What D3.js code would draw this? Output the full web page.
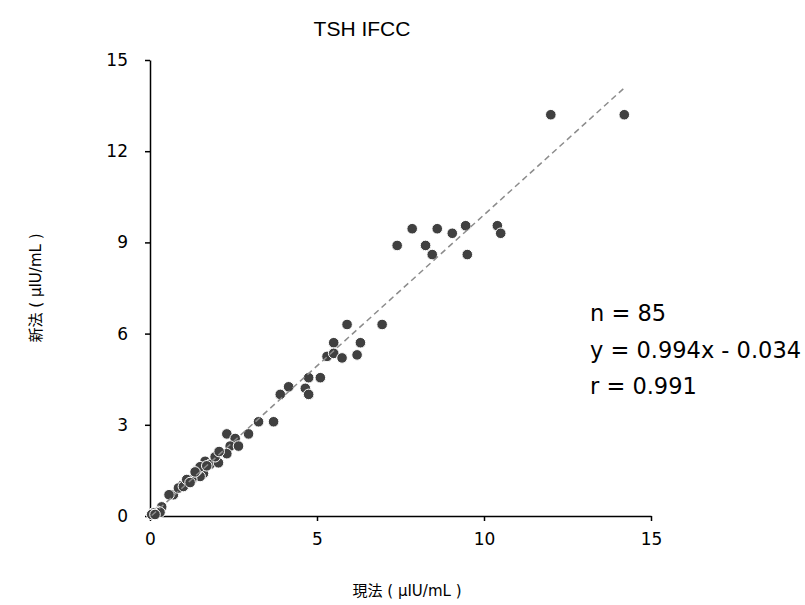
<!DOCTYPE html>
<html>
<head>
<meta charset="utf-8">
<script src="https://cdn.jsdelivr.net/npm/d3@7"></script>
<style>
  html, body { margin: 0; padding: 0; background: #fff; }
  svg { display: block; font-family: "DejaVu Sans", "Noto Sans CJK JP", sans-serif; }
</style>
</head>
<body>
<div id="chart"></div>
<script>
// datos: [現法, 新法]
const currentMethod = [
  12.0, 14.2,
  7.4, 7.85, 8.25, 8.45, 8.6, 9.05, 9.45, 9.5, 10.4, 10.5,
  5.9, 6.95, 5.5, 6.3, 5.3, 5.5, 5.75, 6.2, 4.75, 5.1, 4.65, 4.75, 4.15, 3.9,
  3.25, 3.7, 2.95,
  2.3, 2.55, 2.4, 2.65, 2.05, 2.3, 1.65, 1.8, 2.05, 1.45, 1.6, 1.5, 1.15, 1.25,
  0.95, 0.7, 0.57, 0.85, 1.0, 1.1, 1.4, 1.5, 1.95, 2.07, 1.7, 1.35, 1.2,
  0.35, 0.25, 0.2, 0.3, 0.1, 0.05, 0.15
];
const newMethod = [
  13.2, 13.2,
  8.9, 9.45, 8.9, 8.6, 9.45, 9.3, 9.55, 8.6, 9.55, 9.3,
  6.3, 6.3, 5.7, 5.7, 5.25, 5.35, 5.2, 5.3, 4.55, 4.55, 4.2, 4.0, 4.25, 4.0,
  3.1, 3.1, 2.7,
  2.7, 2.55, 2.3, 2.3, 2.1, 2.05, 1.8, 1.7, 1.75, 1.55, 1.4, 1.3, 1.2, 1.2,
  1.0, 0.7, 0.7, 0.92, 0.97, 1.2, 1.5, 1.62, 1.95, 2.12, 1.65, 1.45, 1.1,
  0.3, 0.15, 0.1, 0.12, 0.1, 0.05, 0.05
];
const xTicks = [0, 5, 10, 15];
const yTicks = [0, 3, 6, 9, 12, 15];
const slope = 0.994;
const intercept = -0.034;
const statsLines = ['n = 85', 'y = 0.994x - 0.034', 'r = 0.991'];
const chartTitle = 'TSH IFCC';
const xTitle = '現法 ( μIU/mL )';
const yTitle = '新法 ( μIU/mL )';

const W = 805, H = 605;
const margin = { top: 60, right: 154, bottom: 89, left: 150 };
const width = W - margin.left - margin.right;
const height = H - margin.top - margin.bottom;

const points = currentMethod.map((x, i) => ({ x, y: newMethod[i] }));

const svg = d3.select('#chart')
  .append('svg')
    .attr('width', W)
    .attr('height', H);

const g = svg.append('g')
  .attr('transform', `translate(${margin.left},${margin.top})`);

const x = d3.scaleLinear().domain([0, 15]).range([0, width]);
const y = d3.scaleLinear().domain([0, 15]).range([height, 0]);

// ejes
const xAxis = g.append('g')
  .attr('transform', `translate(0,${height})`)
  .call(d3.axisBottom(x).tickValues(xTicks).tickSize(5).tickPadding(12).tickSizeOuter(0));

const yAxis = g.append('g')
  .call(d3.axisLeft(y).tickValues(yTicks).tickSize(5).tickPadding(17).tickSizeOuter(0));

[xAxis, yAxis].forEach(a => {
  a.select('.domain').attr('stroke', '#000').attr('stroke-width', 1.5);
  a.selectAll('.tick line').attr('stroke', '#000').attr('stroke-width', 1.5);
  a.selectAll('.tick text')
    .attr('fill', '#000')
    .style('font-size', '17px')
    .style('font-family', '"DejaVu Sans", sans-serif');
});

// puntos
g.append('g')
  .selectAll('circle')
  .data(points)
  .join('circle')
    .attr('cx', d => x(d.x))
    .attr('cy', d => y(d.y))
    .attr('r', 5.3)
    .attr('fill', '#404040')
    .attr('stroke', '#fff')
    .attr('stroke-width', 1);

// recta de regresión
const [xMin, xMax] = d3.extent(points, d => d.x);
g.append('line')
  .attr('x1', x(xMin))
  .attr('y1', y(slope * xMin + intercept))
  .attr('x2', x(xMax))
  .attr('y2', y(slope * xMax + intercept))
  .attr('stroke', '#8c8c8c')
  .attr('stroke-width', 1.5)
  .attr('stroke-dasharray', '6,4');

// títulos
svg.append('text')
  .attr('x', 362)
  .attr('y', 36)
  .attr('text-anchor', 'middle')
  .style('font-family', '"Liberation Sans", sans-serif')
  .style('font-size', '21px')
  .attr('fill', '#000')
  .text(chartTitle);

svg.append('text')
  .attr('x', 407)
  .attr('y', 596)
  .attr('text-anchor', 'middle')
  .style('font-size', '15px')
  .attr('fill', '#000')
  .text(xTitle);

svg.append('text')
  .attr('transform', 'translate(41,288) rotate(-90)')
  .attr('text-anchor', 'middle')
  .style('font-size', '15px')
  .attr('fill', '#000')
  .text(yTitle);

// estadísticos
svg.append('g')
  .selectAll('text')
  .data(statsLines)
  .join('text')
    .attr('x', 590)
    .attr('y', (d, i) => 321 + i * 36.5)
    .style('font-size', '22.5px')
    .attr('fill', '#000')
    .text(d => d);
</script>
</body>
</html>
